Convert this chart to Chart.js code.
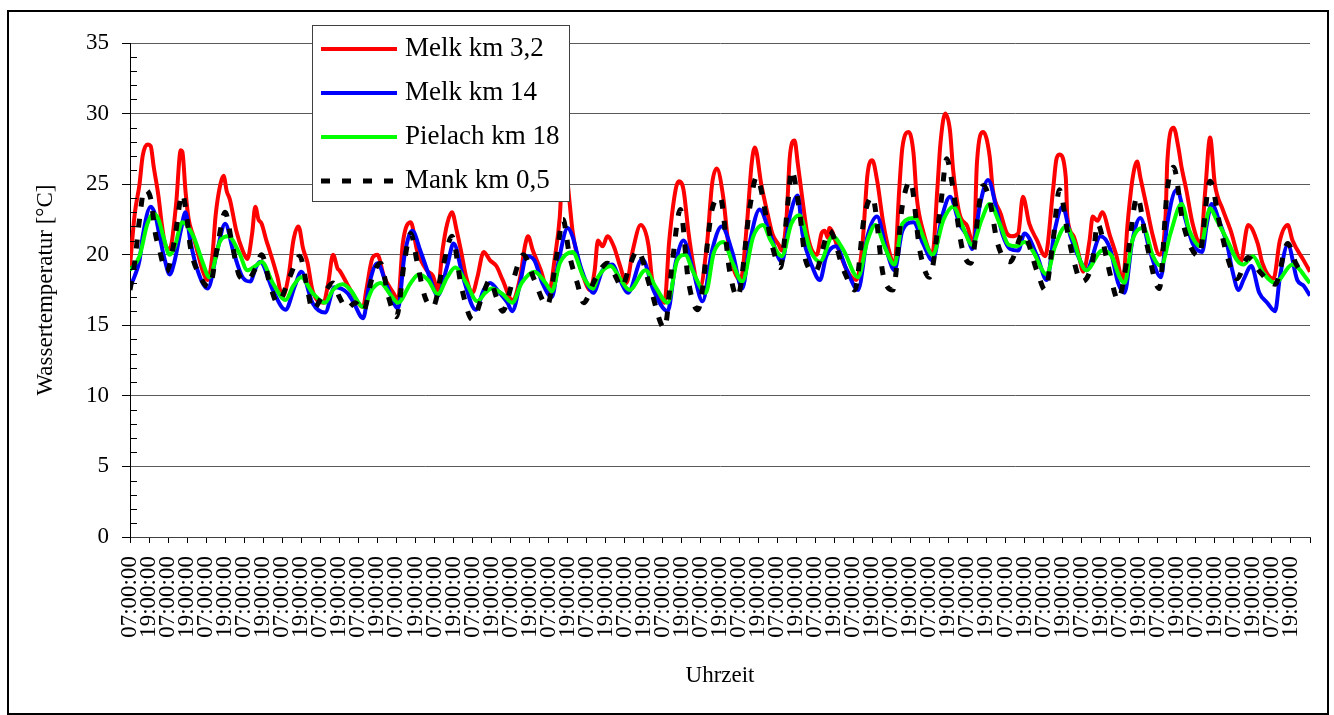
<!DOCTYPE html>
<html>
<head>
<meta charset="utf-8">
<title>Wassertemperatur</title>
<script src="https://cdn.jsdelivr.net/npm/chart.js@4.4.1/dist/chart.umd.min.js"></script>
<style>
  html, body { margin: 0; padding: 0; background: #fff; }
  #wrap { width: 1334px; height: 715px; }
</style>
</head>
<body>
<div id="wrap"><canvas id="tempChart" width="1334" height="715"></canvas></div>
<script>
// x values are hours after the first 07:00:00 reading, y values are °C
const SERIES_NAMES = ['Melk km 3,2', 'Melk km 14', 'Pielach km 18', 'Mank km 0,5'];
const TICK_LABELS = ['07:00:00', '19:00:00'];
const X_END = 744;
const X_STEP = 12;
const Y_MIN = 0;
const Y_MAX = 35;
const Y_STEP = 5;

const melk32 = [[0,19.2],[3,22.9],[6,25],[8,27],[11,27.8],[13,27.7],[15,26.2],[18,24.1],[20,22.2],[22,20.8],[25,20.4],[29,23.5],[32,27.4],[33,27.3],[35,24.5],[37,22.5],[40,21.3],[43,20],[46,18.8],[49,18.2],[52,20],[54,22.8],[57,25],[59,25.6],[61,24.5],[63,23.9],[67,21.7],[71,20.3],[74,19.7],[77,21.5],[79,23.4],[81,22.5],[83,22.2],[86,21],[88,20.3],[93,18.4],[96,17],[100,18.5],[103,21],[106,22],[107,21.8],[109,20.5],[112,19.4],[115,17.5],[122,16.6],[125,18],[128,20],[131,19],[132,18.9],[139,17.5],[147,16.3],[149,17.5],[153,19.8],[156,20],[160,18.5],[166,17.3],[169,16.8],[172,20.8],[177,22.3],[181,20.3],[187,18.9],[191,18.5],[194,17.5],[197,20.3],[200,22.2],[203,23],[206,21.7],[209,20.1],[212,18.4],[216,17.3],[219,18.4],[223,20.2],[227,19.6],[231,19.2],[235,18.2],[241,16.8],[246,18.4],[249,20.6],[251,21.3],[254,20.3],[259,18.9],[264,17.3],[268,19.9],[271,22.7],[273,26.5],[276,25],[277,23.9],[279,21.7],[282,19.9],[286,18.4],[290,17.5],[293,18.9],[295,21],[298,20.6],[301,21.3],[305,20.6],[309,19.2],[313,18],[317,20.3],[322,22.1],[327,20.6],[329,18.4],[334,17],[337,16.6],[340,21],[344,24.6],[346,25.2],[349,24.6],[352,21.7],[355,19.4],[359,17.5],[364,21],[367,25],[370,26.1],[374,24.1],[377,21],[380,19.2],[385,18.2],[389,22.2],[392,26.5],[394,27.6],[398,25],[402,22.9],[405,21.5],[409,20.7],[411,20.3],[414,22.7],[416,26.9],[419,28.1],[421,26.5],[424,23.9],[427,21.5],[431,20.1],[433,20],[436,21.5],[438,21.7],[440,21.2],[441,21.9],[446,20.6],[452,18.9],[458,18.2],[462,21],[465,25.7],[468,26.7],[471,25.3],[475,22.2],[479,20.1],[482,19.2],[485,24.6],[487,27.6],[491,28.7],[494,27.2],[496,24.1],[500,21.7],[506,20.1],[509,24.6],[511,27.9],[514,30],[517,28.8],[519,26],[523,22.9],[528,22],[532,20.6],[534,26.5],[538,28.7],[542,27],[544,24.6],[549,22.9],[553,21.5],[556,21.3],[560,21.5],[563,24.1],[567,22.2],[572,21],[577,19.9],[582,24.6],[584,26.7],[586,27.1],[590,25.5],[591,22.7],[595,21.3],[598,20.1],[601,18.8],[605,21],[607,22.7],[610,22.4],[613,23],[618,21.3],[622,19.9],[626,18.1],[629,22.2],[632,25.3],[635,26.6],[637,25.5],[641,23.4],[645,21.3],[649,20],[653,22.9],[654,26.5],[658,29],[661,27.6],[663,26.2],[666,24.6],[670,22.2],[675,20.8],[678,24.6],[681,28.3],[684,25],[689,23.2],[694,21.7],[698,20.1],[700,19.4],[705,22.1],[711,20.8],[714,19.4],[721,18.3],[725,21],[730,22.1],[733,21],[740,19.6],[744,18.8]];

const melk14 = [[0,17.7],[3,18.5],[6,19.6],[8,21.3],[13,23.4],[16,22.8],[18,21.7],[22,19.6],[25,18.6],[28,19.5],[32,21.7],[35,23],[38,21],[42,19.1],[49,17.6],[55,20.3],[60,22.2],[65,20.3],[71,18.4],[76,18.1],[79,19],[82,19.5],[90,17.5],[98,16.1],[104,17.8],[108,18.8],[115,16.6],[123,15.9],[129,17.7],[137,17.3],[141,16.6],[147,15.5],[151,18],[156,19.4],[162,17.8],[169,16.2],[173,19.9],[178,21.7],[183,20.3],[189,18.4],[194,17.1],[200,19.2],[204,20.8],[210,18.4],[218,16.1],[223,17.5],[227,18],[233,17.3],[238,16.6],[241,16],[246,18],[250,19.9],[255,19.6],[260,18],[266,17],[270,19.4],[276,21.9],[279,21.3],[284,19.2],[288,18],[292,17.3],[298,18.9],[304,19.3],[309,18.2],[314,17.3],[323,19.7],[330,17.5],[339,16],[344,19.4],[349,21],[355,18.9],[361,16.7],[367,20.3],[373,22],[380,20.1],[386,17.6],[391,21],[397,23.2],[404,21.3],[411,19.5],[416,22.7],[421,24.2],[424,21.5],[430,19.2],[435,18.2],[439,19.9],[445,20.6],[452,18.9],[459,17.5],[465,21.3],[471,22.7],[477,20.3],[482,18.9],[487,21.7],[494,22.3],[500,20.8],[506,19.6],[512,22.7],[517,24.1],[523,22.2],[528,21.3],[531,20.4],[536,23.6],[541,25.3],[547,22.9],[550,21.5],[555,20.4],[560,20.3],[564,21.5],[572,19.9],[578,18.2],[583,21.7],[588,23.4],[593,21.3],[599,19.6],[603,18.9],[612,21.3],[618,20.4],[623,18],[627,17.3],[632,21],[637,22.6],[643,20.3],[650,18.4],[654,22.2],[660,24.6],[665,22.7],[670,20.8],[676,20.2],[679,22.2],[682,23.6],[687,22.3],[692,20.6],[695,18.9],[699,17.5],[702,18.2],[707,19.2],[712,17.3],[717,16.6],[722,16],[725,18.4],[730,20.7],[736,18.2],[740,17.8],[744,17.1]];

const pielach18 = [[0,18.9],[6,19.9],[11,22.2],[15,22.9],[18,22.5],[21,21.3],[25,20],[28,20.5],[33,22.3],[40,21.3],[46,19.4],[50,18.4],[57,21],[62,21.3],[69,20.1],[74,18.9],[79,19.2],[83,19.5],[90,18],[98,16.8],[103,17.8],[108,18.4],[115,17.3],[123,16.6],[128,17.5],[134,17.9],[139,17.5],[147,16.3],[153,17.6],[158,18],[164,17.2],[169,16.6],[177,18],[182,18.6],[188,18.2],[194,17.2],[200,18.4],[205,19.1],[212,18],[219,16.7],[224,17.3],[228,17.6],[235,17.2],[241,16.6],[247,18],[255,18.8],[262,18],[266,17.4],[271,19.4],[279,20.2],[286,18.4],[292,17.6],[295,18.4],[303,19.2],[309,18.3],[315,17.5],[325,18.9],[331,17.8],[339,16.6],[345,19.6],[350,20],[355,18.8],[363,17.3],[368,20.1],[374,20.9],[380,19.4],[386,18.1],[393,21.3],[399,22.1],[404,21],[411,19.9],[417,22.2],[422,22.8],[429,20.3],[435,19.5],[443,21.3],[450,20.3],[459,18.4],[465,21],[470,22.1],[476,20.5],[482,19.3],[487,22.2],[495,22.6],[500,21.3],[506,20],[513,22.5],[519,23.4],[525,22],[531,20.7],[537,22.5],[542,23.6],[549,22],[554,20.7],[559,20.6],[564,20.9],[569,20.3],[578,18.6],[583,20.5],[590,22],[595,21],[599,19.6],[603,18.9],[613,20.3],[619,19.9],[624,18.4],[627,18],[632,21],[639,21.9],[645,19.9],[650,19.2],[656,21.5],[663,23.6],[668,21.7],[675,20.6],[681,23.3],[685,22.5],[692,21],[698,19.6],[702,19.3],[708,19.9],[714,18.8],[722,18],[733,19.3],[744,18]];

const mank05 = [[0,17.5],[3,19.5],[6,22.5],[9,24.6],[13,24],[16,21.5],[18,20.6],[23,18.8],[28,21],[33,24.3],[36,22.5],[38,20.6],[44,18.5],[50,17.7],[55,20.5],[60,23],[64,21],[69,18.5],[74,18.2],[79,19],[83,20],[88,18],[93,16.6],[101,18.5],[107,19.9],[112,17.5],[115,16.1],[122,17.2],[128,18],[132,17],[137,16.2],[142,16.6],[147,16],[153,18.5],[158,19.4],[163,17],[168,15.6],[173,19.5],[177,21.5],[181,19.5],[186,17],[191,16.3],[197,19],[203,21.3],[209,17.7],[216,15.4],[222,17],[227,18.2],[231,17],[235,16],[241,18],[248,20],[255,18.2],[263,16.4],[269,19.9],[273,22.5],[277,20],[282,18],[286,16.6],[293,18.2],[301,19.4],[306,18.5],[310,17.7],[315,19.2],[320,20.3],[328,17.7],[337,14.8],[342,19.5],[347,23.2],[352,18.2],[358,16.1],[367,23.2],[372,24.1],[378,18.9],[383,17],[391,23.5],[395,25.5],[402,22.2],[405,20.6],[410,19.1],[415,23.9],[417,26],[422,23.2],[426,19.6],[432,18.8],[441,21.7],[450,18.9],[457,17.5],[463,22.7],[468,24.1],[475,18.5],[481,17.5],[487,23.5],[492,25.2],[498,20.3],[504,18.4],[511,23.4],[515,26.8],[518,25.3],[525,20.3],[530,19.4],[538,24.9],[542,23.9],[547,20.8],[555,19.5],[563,21.5],[572,18.8],[577,17.5],[582,21],[586,24.6],[591,21.7],[595,19.6],[600,18.1],[607,19.6],[610,22.2],[616,19.6],[618,18.6],[623,16.8],[629,19.9],[635,24.1],[641,20.8],[649,17.6],[654,24.6],[658,26.2],[664,22.2],[674,19.9],[681,25.2],[687,22.2],[692,19.8],[698,18.3],[705,19.8],[713,18.7],[722,17.9],[730,20.8],[735,19.4],[740,18.5]];

const toPoints = rows => rows.map(([h, t]) => ({ x: h, y: t }));

Chart.defaults.font.family = '"Liberation Serif", "Times New Roman", serif';
Chart.defaults.color = '#000';

// small inner ticks at every degree, like the Excel minor tick marks
const minorTicks = {
    id: 'minorTicks',
    afterDraw(chart) {
        const ctx = chart.ctx;
        const yScale = chart.scales.y;
        const left = chart.chartArea.left;
        ctx.save();
        ctx.strokeStyle = '#000';
        ctx.lineWidth = 1;
        ctx.beginPath();
        for (let v = Y_MIN; v <= Y_MAX; v++) {
            if (v % Y_STEP === 0) continue;
            const py = Math.round(yScale.getPixelForValue(v)) + 0.5;
            ctx.moveTo(left, py);
            ctx.lineTo(left + 7, py);
        }
        ctx.stroke();
        ctx.restore();
    }
};

// boxed legend sitting on top of the plot
const boxLegend = {
    id: 'boxLegend',
    afterDraw(chart) {
        const ctx = chart.ctx;
        const bx = 312, by = 25, bw = 257, bh = 176;
        ctx.save();
        ctx.fillStyle = '#fff';
        ctx.fillRect(bx, by, bw, bh);
        ctx.strokeStyle = '#404040';
        ctx.lineWidth = 1;
        ctx.strokeRect(bx + 0.5, by + 0.5, bw, bh);
        ctx.font = '27px "Liberation Serif", "Times New Roman", serif';
        ctx.textBaseline = 'middle';
        ctx.textAlign = 'left';
        chart.data.datasets.forEach((ds, i) => {
            const ry = by + 24 + i * 44;
            ctx.beginPath();
            ctx.setLineDash(ds.borderDash || []);
            ctx.lineWidth = ds.borderWidth;
            ctx.strokeStyle = ds.borderColor;
            ctx.lineCap = 'butt';
            ctx.moveTo(321, ry);
            ctx.lineTo(397, ry);
            ctx.stroke();
            ctx.setLineDash([]);
            ctx.fillStyle = '#000';
            ctx.fillText(ds.label, 405, ry);
        });
        ctx.restore();
    }
};

// outer chart border
const frame = {
    id: 'frame',
    afterDraw(chart) {
        const ctx = chart.ctx;
        ctx.save();
        ctx.strokeStyle = '#000';
        ctx.lineWidth = 2;
        ctx.strokeRect(8, 11, 1320, 703);
        ctx.restore();
    }
};

new Chart(document.getElementById('tempChart'), {
    type: 'line',
    data: {
        datasets: [{
            label: SERIES_NAMES[0],
            data: toPoints(melk32),
            borderColor: '#ff0000',
            borderWidth: 4,
            order: 4
        }, {
            label: SERIES_NAMES[1],
            data: toPoints(melk14),
            borderColor: '#0000ff',
            borderWidth: 4,
            order: 3
        }, {
            label: SERIES_NAMES[2],
            data: toPoints(pielach18),
            borderColor: '#00ff00',
            borderWidth: 4,
            order: 2
        }, {
            label: SERIES_NAMES[3],
            data: toPoints(mank05),
            borderColor: '#000000',
            borderWidth: 5,
            borderDash: [9, 12],
            order: 1
        }]
    },
    options: {
        responsive: false,
        animation: false,
        devicePixelRatio: 1,
        layout: { padding: { top: 43, right: 24, bottom: 0, left: 0 } },
        elements: {
            point: { radius: 0 },
            line: { cubicInterpolationMode: 'monotone', borderCapStyle: 'butt', borderJoinStyle: 'round', fill: false }
        },
        plugins: {
            legend: { display: false },
            tooltip: { enabled: false }
        },
        scales: {
            x: {
                type: 'linear',
                min: 0,
                max: X_END,
                afterFit: s => {
                    s.height = 178;
                    s.paddingLeft = 0;
                    s.paddingRight = 0;
                },
                ticks: {
                    stepSize: X_STEP,
                    autoSkip: false,
                    minRotation: 90,
                    maxRotation: 90,
                    padding: 13,
                    color: '#000',
                    font: { size: 23 },
                    callback: v => v >= X_END ? '' : TICK_LABELS[Math.round(v / X_STEP) % 2]
                },
                grid: { drawOnChartArea: false, drawTicks: true, tickLength: 6, color: '#000' },
                border: { color: '#404040', width: 1 },
                title: {
                    display: true,
                    text: 'Uhrzeit',
                    color: '#000',
                    font: { size: 23 },
                    padding: { top: 0, bottom: 25 }
                }
            },
            y: {
                min: Y_MIN,
                max: Y_MAX,
                afterFit: s => {
                    s.width = 130;
                    s.paddingTop = 0;
                    s.paddingBottom = 0;
                },
                ticks: { stepSize: Y_STEP, padding: 13, color: '#000', font: { size: 23 } },
                grid: { color: '#5a5a5a', tickLength: 8, tickColor: '#000' },
                border: { color: '#000', width: 1 },
                title: {
                    display: true,
                    text: 'Wassertemperatur [°C]',
                    color: '#000',
                    font: { size: 23 },
                    padding: { top: 32, bottom: 0 }
                }
            }
        }
    },
    plugins: [minorTicks, boxLegend, frame]
});
</script>
</body>
</html>
